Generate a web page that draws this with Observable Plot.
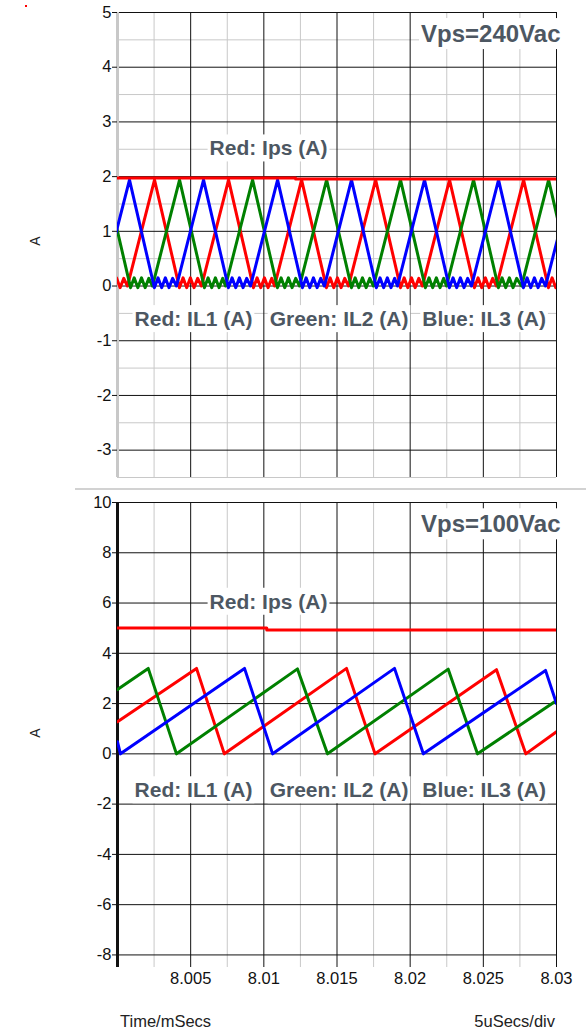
<!DOCTYPE html>
<html><head><meta charset="utf-8">
<script src="https://cdn.jsdelivr.net/npm/d3@7"></script>
<script src="https://cdn.jsdelivr.net/npm/@observablehq/plot@0.6"></script>
<style>
body{margin:0;background:#fff;font-family:"Liberation Sans",Arial,sans-serif;}
#root{position:relative;width:586px;height:1031px;overflow:hidden;background:#fff;}
#root svg{position:absolute;left:0;}
.abs{position:absolute;white-space:nowrap;line-height:1;}
</style></head><body><div id="root"></div>
<script>
// ---- time axis (µs after 8 ms) ----
const xMajor = [5, 10, 15, 20, 25, 30];
const xTickLabels = ["8.005", "8.01", "8.015", "8.02", "8.025", "8.03"];
const xMinor = [2.5, 7.5, 12.5, 17.5, 22.5, 27.5];

// ---- top panel (Vps=240Vac) ----
const topYMajor = [5, 4, 3, 2, 1, 0, -1, -2, -3];
const topYMinor = [4.5, 3.5, 2.5, 1.5, 0.5, -0.5, -1.5, -2.5, -3.5];
const topIps = [[0,1.975],[12.17,1.975],[12.17,1.955],[30,1.955]];
const topIL1 = [
[-2.52,1.94],[-0.82,-0.03],[-0.57,0.15],[-0.32,-0.03],[-0.07,0.15],[0.18,-0.03],[0.43,0.14],[0.68,0.0],
[2.53,1.94],[4.23,-0.03],[4.48,0.15],[4.73,-0.03],[4.98,0.15],[5.23,-0.03],[5.48,0.14],[5.74,0.0],
[7.59,1.94],[9.29,-0.03],[9.54,0.15],[9.79,-0.03],[10.04,0.15],[10.29,-0.03],[10.54,0.14],[10.73,0.0],
[12.58,1.94],[14.28,-0.03],[14.53,0.15],[14.78,-0.03],[15.03,0.15],[15.28,-0.03],[15.53,0.14],[15.79,0.0],
[17.64,1.94],[19.34,-0.03],[19.59,0.15],[19.84,-0.03],[20.09,0.15],[20.34,-0.03],[20.59,0.14],[20.84,0.0],
[22.69,1.94],[24.39,-0.03],[24.64,0.15],[24.89,-0.03],[25.14,0.15],[25.39,-0.03],[25.64,0.14],[25.90,0.0],
[27.75,1.94],[29.45,-0.03],[29.70,0.15],[29.95,-0.03],[30.20,0.15]];
const topIL2 = [
[-0.81,1.94],[0.89,-0.03],[1.14,0.15],[1.39,-0.03],[1.64,0.15],[1.89,-0.03],[2.14,0.14],[2.39,0.0],
[4.24,1.94],[5.94,-0.03],[6.19,0.15],[6.44,-0.03],[6.69,0.15],[6.94,-0.03],[7.19,0.14],[7.38,0.0],
[9.23,1.94],[10.93,-0.03],[11.18,0.15],[11.43,-0.03],[11.68,0.15],[11.93,-0.03],[12.18,0.14],[12.44,0.0],
[14.29,1.94],[15.99,-0.03],[16.24,0.15],[16.49,-0.03],[16.74,0.15],[16.99,-0.03],[17.24,0.14],[17.49,0.0],
[19.34,1.94],[21.04,-0.03],[21.29,0.15],[21.54,-0.03],[21.79,0.15],[22.04,-0.03],[22.29,0.14],[22.48,0.0],
[24.33,1.94],[26.03,-0.03],[26.28,0.15],[26.53,-0.03],[26.78,0.15],[27.03,-0.03],[27.28,0.14],[27.61,0.0],
[29.46,1.94],[31.16,-0.03]];
const topIL3 = [
[-1.03,0.0],[0.82,1.94],[2.52,-0.03],[2.77,0.15],[3.02,-0.03],[3.27,0.15],[3.52,-0.03],[3.77,0.14],[4.03,0.0],
[5.88,1.94],[7.58,-0.03],[7.83,0.15],[8.08,-0.03],[8.33,0.15],[8.58,-0.03],[8.83,0.14],[9.09,0.0],
[10.94,1.94],[12.64,-0.03],[12.89,0.15],[13.14,-0.03],[13.39,0.15],[13.64,-0.03],[13.89,0.14],[14.14,0.0],
[15.99,1.94],[17.69,-0.03],[17.94,0.15],[18.19,-0.03],[18.44,0.15],[18.69,-0.03],[18.94,0.14],[19.13,0.0],
[20.98,1.94],[22.68,-0.03],[22.93,0.15],[23.18,-0.03],[23.43,0.15],[23.68,-0.03],[23.93,0.14],[24.19,0.0],
[26.04,1.94],[27.74,-0.03],[27.99,0.15],[28.24,-0.03],[28.49,0.15],[28.74,-0.03],[28.99,0.14],[29.25,0.0],
[31.1,1.94]];

// ---- bottom panel (Vps=100Vac) ----
const botYMajor = [10, 8, 6, 4, 2, 0, -2, -4, -6, -8];
const botIps = [[0,5.01],[10.2,5.01],[10.2,4.93],[30,4.93]];
const botIL1 = [[0,1.28],[5.4,3.4],[7.3,0.0],[15.65,3.4],[17.6,0.0],[25.9,3.35],[27.9,0.0],[30,0.88]];
const botIL2 = [[0,2.56],[2.1,3.4],[4.03,0.0],[12.3,3.38],[14.35,0.0],[22.6,3.37],[24.6,0.0],[30,2.12]];
const botIL3 = [[0,0.48],[0.2,0.0],[8.68,3.4],[10.6,0.0],[18.93,3.4],[20.9,0.0],[29.25,3.32],[30,2.0]];

// ---- texts ----
const topTitle = "Vps=240Vac";
const botTitle = "Vps=100Vac";
const ipsLabel = "Red: Ips (A)";
const ilLabels = ["Red: IL1 (A)", "Green: IL2 (A)", "Blue: IL3 (A)"];
const yLabel = "A";
const xLabelLeft = "Time/mSecs";
const xLabelRight = "5uSecs/div";

const FONT = "'Liberation Sans', Arial, sans-serif";
const LBL = "#4d5762";
const RED = "#ff0000", GREEN = "#008000", BLUE = "#0000ff";
const GRAYGRID = "#c8c8c8", BLACK = "#111";
const fmt = d => String(d);

function label(text, x, y, opts = {}) {
  return Plot.text([text], {x: () => x, y: () => y, text: d => d, fill: LBL, fontWeight: "bold",
    fontSize: 21, fontFamily: FONT, ...opts});
}
function series(data, color) {
  return Plot.line(data, {x: "0", y: "1", stroke: color, strokeWidth: 3, clip: true});
}

const topPlot = Plot.plot({
  width: 586, height: 482,
  marginTop: 12, marginLeft: 117, marginRight: 30, marginBottom: 5,
  x: {domain: [0, 30], axis: null},
  y: {domain: [-3.5, 5], axis: null},
  style: {background: "transparent", fontFamily: FONT, overflow: "visible"},
  marks: [
    Plot.ruleX(xMinor, {stroke: GRAYGRID}),
    Plot.ruleY(topYMinor, {stroke: GRAYGRID}),
    Plot.ruleX(xMajor, {stroke: BLACK}),
    Plot.ruleY(topYMajor, {stroke: BLACK}),
    Plot.ruleX([0], {stroke: GRAYGRID, strokeWidth: 3}),
    Plot.axisY({ticks: topYMajor, tickFormat: fmt, tickSize: 5, tickPadding: 1, fontSize: 16.5, color: BLACK, label: null}),
    label(topTitle, 30, 4.6, {textAnchor: "end", dx: 4, fontSize: 24}),
    label(ipsLabel, 10.32, 2.51),
    label(ilLabels[0], 5.19, -0.61),
    label(ilLabels[1], 15.14, -0.61),
    label(ilLabels[2], 25.05, -0.61),
    series(topIL1, RED),
    series(topIL2, GREEN),
    series(topIL3, BLUE),
    series(topIps, RED)
  ]
});

const botPlot = Plot.plot({
  width: 586, height: 541,
  marginTop: 12, marginLeft: 117, marginRight: 30, marginBottom: 64,
  x: {domain: [0, 30]},
  y: {domain: [-8.5, 10], axis: null},
  style: {background: "transparent", fontFamily: FONT, overflow: "visible"},
  marks: [
    Plot.ruleX(xMinor, {stroke: GRAYGRID}),
    Plot.ruleX(xMajor, {stroke: BLACK}),
    Plot.ruleY(botYMajor, {stroke: BLACK}),
    Plot.ruleX([0], {stroke: BLACK, strokeWidth: 3}),
    Plot.axisY({ticks: botYMajor, tickFormat: fmt, tickSize: 5, tickPadding: 1, fontSize: 16.5, color: BLACK, label: null}),
    Plot.axisX({ticks: xMajor, tickFormat: d => xTickLabels[xMajor.indexOf(d)], tickSize: 0, tickPadding: 5, fontSize: 16.5, color: BLACK, label: null}),
    label(botTitle, 30, 9.12, {textAnchor: "end", dx: 4, fontSize: 24}),
    label(ipsLabel, 10.32, 6.04),
    label(ilLabels[0], 5.19, -1.46),
    label(ilLabels[1], 15.14, -1.46),
    label(ilLabels[2], 25.05, -1.46),
    series(botIL1, RED),
    series(botIL2, GREEN),
    series(botIL3, BLUE),
    series(botIps, RED)
  ]
});

const root = document.getElementById("root");
topPlot.style.top = "0px";
botPlot.style.top = "490px";
root.appendChild(topPlot);
root.appendChild(botPlot);

// white boxes behind annotation labels
for (const svg of [topPlot, botPlot]) {
  svg.querySelectorAll('g[aria-label="text"] text').forEach(t => {
    const bb = t.getBBox();
    const r = document.createElementNS("http://www.w3.org/2000/svg", "rect");
    r.setAttribute("x", bb.x - 2); r.setAttribute("y", bb.y - 2);
    r.setAttribute("width", bb.width + 4); r.setAttribute("height", bb.height + 4);
    r.setAttribute("fill", "#fff");
    if (t.getAttribute("transform")) r.setAttribute("transform", t.getAttribute("transform"));
    t.parentNode.insertBefore(r, t);
  });
}

function addDiv(text, css) {
  const d = document.createElement("div");
  d.className = "abs"; d.textContent = text;
  Object.assign(d.style, css);
  root.appendChild(d);
  return d;
}
// separator
const sep = document.createElement("div");
Object.assign(sep.style, {position: "absolute", left: "75px", top: "488px", width: "511px", height: "2px", background: "#d2d2d2"});
root.appendChild(sep);
// marker dot
const dot = document.createElement("div");
Object.assign(dot.style, {position: "absolute", left: "25px", top: "5px", width: "2px", height: "2px", background: RED});
root.appendChild(dot);
// y labels
for (const cy of [241, 733]) {
  addDiv(yLabel, {left: "29px", top: (cy - 7) + "px", fontSize: "14px", color: "#222", transform: "rotate(-90deg)", width: "12px", textAlign: "center"});
}
addDiv(xLabelLeft, {left: "120px", top: "1013px", fontSize: "16.5px", color: "#222"});
addDiv(xLabelRight, {right: "31px", top: "1013px", fontSize: "16.5px", color: "#222"});
</script></body></html>
